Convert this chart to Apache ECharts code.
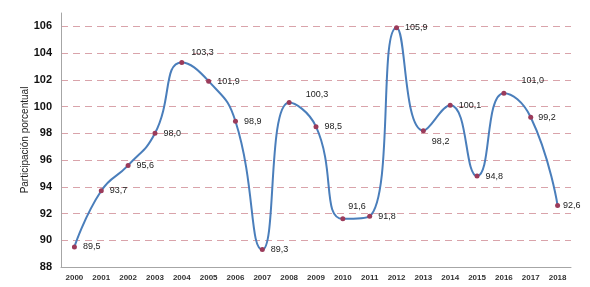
<!DOCTYPE html>
<html>
<head>
<meta charset="utf-8">
<script src="https://cdn.jsdelivr.net/npm/echarts@6/dist/echarts.min.js"></script>
<style>html,body{margin:0;padding:0;background:#fff;}#c{width:590px;height:287px;}</style>
</head>
<body>
<div id="c"></div>
<script>
const years = ['2000','2001','2002','2003','2004','2005','2006','2007','2008','2009','2010','2011','2012','2013','2014','2015','2016','2017','2018'];
const values = [89.5, 93.7, 95.6, 98.0, 103.3, 101.9, 98.9, 89.3, 100.3, 98.5, 91.6, 91.8, 105.9, 98.2, 100.1, 94.8, 101.0, 99.2, 92.6];
const axisName = 'Participación porcentual';

const labelOffsets = {4: [1, -10], 8: [8, -8], 10: [-3, -12], 13: [0, 11], 16: [9, -13], 17: [-1, 0], 18: [-3, 0]};
const seriesData = values.map((v, i) => {
  const item = { value: v };
  if (labelOffsets[i]) item.label = { offset: labelOffsets[i] };
  return item;
});

const chart = echarts.init(document.getElementById('c'), null, { renderer: 'canvas' });
chart.setOption({
  animation: false,
  backgroundColor: '#fff',
  grid: { left: 61, right: 19, top: 13, bottom: 20, containLabel: false },
  xAxis: {
    type: 'category',
    data: years,
    boundaryGap: true,
    axisLine: { lineStyle: { color: '#a6a6a6', width: 1 } },
    axisTick: { show: false },
    axisLabel: { color: '#333', fontSize: 8, fontWeight: 'bold', fontFamily: 'Liberation Sans', margin: 7, interval: 0 }
  },
  yAxis: {
    type: 'value',
    min: 88, max: 107, interval: 2,
    name: axisName,
    nameLocation: 'middle',
    nameGap: 31,
    nameMoveOverlap: false,
    nameRotate: 90,
    nameTextStyle: { color: '#222', fontSize: 10, fontFamily: 'Liberation Sans' },
    axisLine: { show: true, lineStyle: { color: '#a6a6a6', width: 1 } },
    axisTick: { show: false },
    axisLabel: { color: '#111', fontSize: 11, fontWeight: 'bold', fontFamily: 'Liberation Sans', margin: 9, showMaxLabel: false },
    splitLine: { show: true, showMinLine: false, showMaxLine: false, lineStyle: { color: '#d9a3aa', type: [7, 5], width: 1 } }
  },
  series: [{
    type: 'line',
    data: seriesData,
    smooth: 0.5,
    symbol: 'circle',
    symbolSize: 5,
    lineStyle: { color: '#4a7ebb', width: 2 },
    itemStyle: { color: '#9b3b5a' },
    label: {
      show: true, position: 'right', distance: 6,
      color: '#222', fontSize: 9, fontFamily: 'Liberation Sans',
      formatter: p => p.value.toFixed(1).replace('.', ',')
    }
  }]
});
</script>
</body>
</html>
